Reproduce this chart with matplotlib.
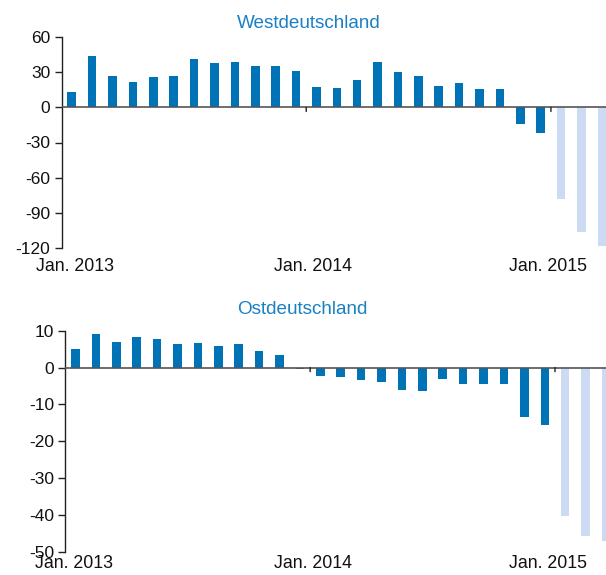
import matplotlib
matplotlib.use("Agg")
import matplotlib.pyplot as plt
import matplotlib.transforms as mtransforms
import numpy as np

plt.rcParams['font.family'] = ['Liberation Sans', 'DejaVu Sans']

west = [13, 44, 27, 22, 26, 26.5, 41.5, 38, 38.5, 35, 35.5, 31, 17.5,
        16.5, 23.5, 39, 30.5, 27, 18, 21, 15.5, 15.5, -14.5, -22,
        -78, -106, -118]
east = [4.9, 9.0, 6.9, 8.2, 7.7, 6.5, 6.7, 5.9, 6.4, 4.6, 3.5, -0.4,
        -2.3, -2.7, -3.4, -3.8, -6.1, -6.4, -3.0, -4.6, -4.5, -4.5,
        -13.5, -15.7, -40.4, -45.8, -47.2]
forecast_from = 24  # last three months are projections
xlabels = ["Jan. 2013", "Jan. 2014", "Jan. 2015"]
xlabel_months = [0, 12, 24]

DARK = "#0072b6"
LIGHT = "#ccdaf3"
TITLE = "#1a80c4"
AXIS = "#222222"
ZERO = "#555555"

fig = plt.figure(figsize=(6.06, 5.75), dpi=100)
W, H = 606, 575

def make_ax(left_px, top_px, bottom_px):
    return fig.add_axes([left_px / W, 1 - bottom_px / H, 1 - left_px / W,
                         (bottom_px - top_px) / H])

panels = [
    dict(vals=west, title="Westdeutschland", left=61.5, top=37, bottom=248,
         xmax=26.7, ylim=(-120, 60), yticks=[60, 30, 0, -30, -60, -90, -120],
         title_y=23, title_x=308.5, lab_off=[0.65, 12.35, 23.85], lab_dy=-7.5),
    dict(vals=east, title="Ostdeutschland", left=65.3, top=330.7, bottom=551.7,
         xmax=26.5, ylim=(-50, 10), yticks=[10, 0, -10, -20, -30, -40, -50],
         title_y=310, title_x=302.5, lab_off=[0.45, 12.15, 23.65], lab_dy=-2.3),
]

for p in panels:
    ax = make_ax(p['left'], p['top'], p['bottom'])
    vals = np.array(p['vals'])
    n = len(vals)
    x = np.arange(n) + 0.5
    colors = [DARK if i < forecast_from else LIGHT for i in range(n)]
    ax.bar(x, vals, width=0.42, color=colors, zorder=2)
    ax.set_xlim(0, p['xmax'])
    ax.set_ylim(*p['ylim'])
    ax.axhline(0, color=ZERO, lw=1.2, zorder=3)
    for s in ['top', 'right', 'bottom']:
        ax.spines[s].set_visible(False)
    ax.spines['left'].set_color(AXIS)
    ax.spines['left'].set_linewidth(1.0)
    ax.set_yticks(p['yticks'])
    ax.set_yticklabels([str(t) for t in p['yticks']])
    ax.tick_params(axis='y', length=5, width=1.0, color=AXIS, pad=3,
                   labelsize=12.5, labelcolor="#111111")
    ax.set_xticks([])
    # small month tick marks on the zero line
    for m in xlabel_months[1:]:
        ax.annotate("", xy=(m, 0), xytext=(0, -3), textcoords='offset points',
                    arrowprops=dict(arrowstyle='-', color=AXIS, lw=1.0,
                                    shrinkA=0, shrinkB=0))
    blend = mtransforms.blended_transform_factory(ax.transData, ax.transAxes)
    lab_trans = mtransforms.offset_copy(blend, fig=fig, x=0, y=p['lab_dy'],
                                        units='points')
    for lab, xo in zip(xlabels, p['lab_off']):
        ax.text(xo, 0, lab, transform=lab_trans, ha='center', va='top',
                fontsize=12.8, color="#111111")
    fig.text(p['title_x'] / W, 1 - p['title_y'] / H, p['title'], ha='center',
             va='center', fontsize=13.6, color=TITLE)

fig.savefig("out.png", dpi=100)
